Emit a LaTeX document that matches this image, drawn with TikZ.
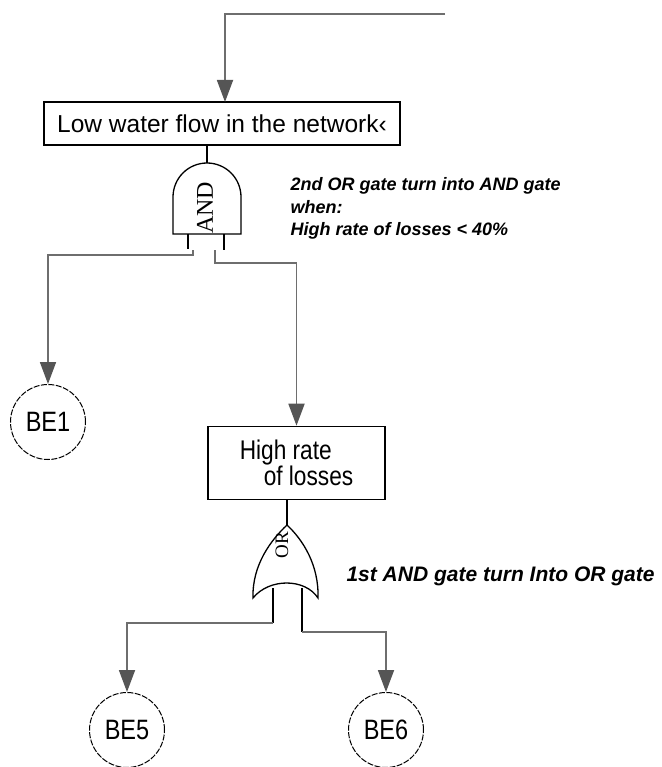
\documentclass[tikz,border=0pt]{standalone}
\usepackage{fontspec}
\setmainfont{Liberation Sans}
\newfontfamily\narrowfont[FakeStretch=0.84]{Liberation Sans}
\newfontfamily\gatefont{Liberation Serif}
\usetikzlibrary{arrows.meta, positioning}
\definecolor{wiregray}{HTML}{6E6E6E}
\definecolor{tipgray}{HTML}{555555}

\begin{document}
\begin{tikzpicture}[x=1pt, y=-1pt,
    wire/.style={wiregray, line width=1.8pt},
    flow/.style={wire, -{Triangle[length=22pt, width=16pt, fill=tipgray, color=tipgray]}},
    leg/.style={black, line width=1.4pt},
    gate/.style={draw=black, line width=1.3pt, fill=white},
    eventbox/.style={draw=black, line width=1.6pt, inner sep=0pt},
    basicevent/.style={circle, draw=black, line width=1pt, dash pattern=on 6pt off 1.5pt,
        minimum size=75pt, inner sep=0pt, font=\narrowfont\fontsize{28}{28}\selectfont},
    note/.style={font=\bfseries\itshape\fontsize{18}{22}\selectfont, align=left, anchor=base west}]
    \useasboundingbox (0,0) rectangle (661,767);

    % ── top event ─────────────────────────────────────────────────────
    \coordinate (feed) at (445,14);
    \coordinate (in1) at (225,102);
    \node[eventbox, minimum width=356, minimum height=43, font=\fontsize{24.5}{25}\selectfont]
        (box1) at (222,123.5) {Low water flow in the network\guilsinglleft};
    \draw[flow] (feed) -| (in1);

    % ── AND gate ──────────────────────────────────────────────────────
    \coordinate (andtop) at (207,163);
    \draw[leg] (box1.south -| andtop) -- (andtop);
    \draw[gate] (173,234) -- (173,197) arc[start angle=180, end angle=360, radius=34] -- (241,234) -- cycle;
    \node[font=\gatefont\fontsize{24}{24}\selectfont, rotate=90] (andlbl) at (205,208) {AND};
    \coordinate (andL) at (193,250);
    \coordinate (andR) at (215,250);
    \draw[leg] (188,234) -- (188,249);
    \draw[leg] (224,234) -- (224,250);

    % annotation: last line sits on y=235
    \node[note] (note1) at (287,235) {2nd OR gate turn into AND gate\\when:\\High rate of losses < 40\%};

    % ── intermediate event ────────────────────────────────────────────
    \node[basicevent] (be1) at (48,422) {BE1};
    \node[eventbox, minimum width=177, minimum height=73, align=left,
        font=\narrowfont\fontsize{27}{24}\selectfont]
        (box2) at (296.5,463) {High rate\\\hspace*{24pt}of losses};
    \draw[flow] (andL) -- ++(0,5) -| (be1.north);
    \draw[flow] (andR) -- ++(0,13) -| (box2.north);

    % ── OR gate ───────────────────────────────────────────────────────
    \coordinate (ortop) at (287,525);
    \draw[leg] (box2.south -| ortop) -- (ortop);
    \draw[gate] (ortop) .. controls (303,540) and (319,565) .. (318,598)
        .. controls (305,578) and (269,578) .. (253,598)
        .. controls (252,565) and (271,540) .. (ortop) -- cycle;
    \node[font=\gatefont\fontsize{19}{19}\selectfont, rotate=90] (orlbl) at (282,545) {OR};
    \coordinate (orL) at (273,623);
    \coordinate (orR) at (302,632);
    \draw[leg] (273,588) -- (orL);
    \draw[leg] (302,588) -- (orR);

    \node[note, font=\bfseries\itshape\fontsize{21}{22}\selectfont] (note2) at (343,581) {1st AND gate turn Into OR gate};

    % ── basic events ──────────────────────────────────────────────────
    \node[basicevent] (be5) at (127,730) {BE5};
    \node[basicevent] (be6) at (386,730) {BE6};
    \draw[flow] (orL) -| (be5.north);
    \draw[flow] (orR) -| (be6.north);
\end{tikzpicture}
\end{document}
